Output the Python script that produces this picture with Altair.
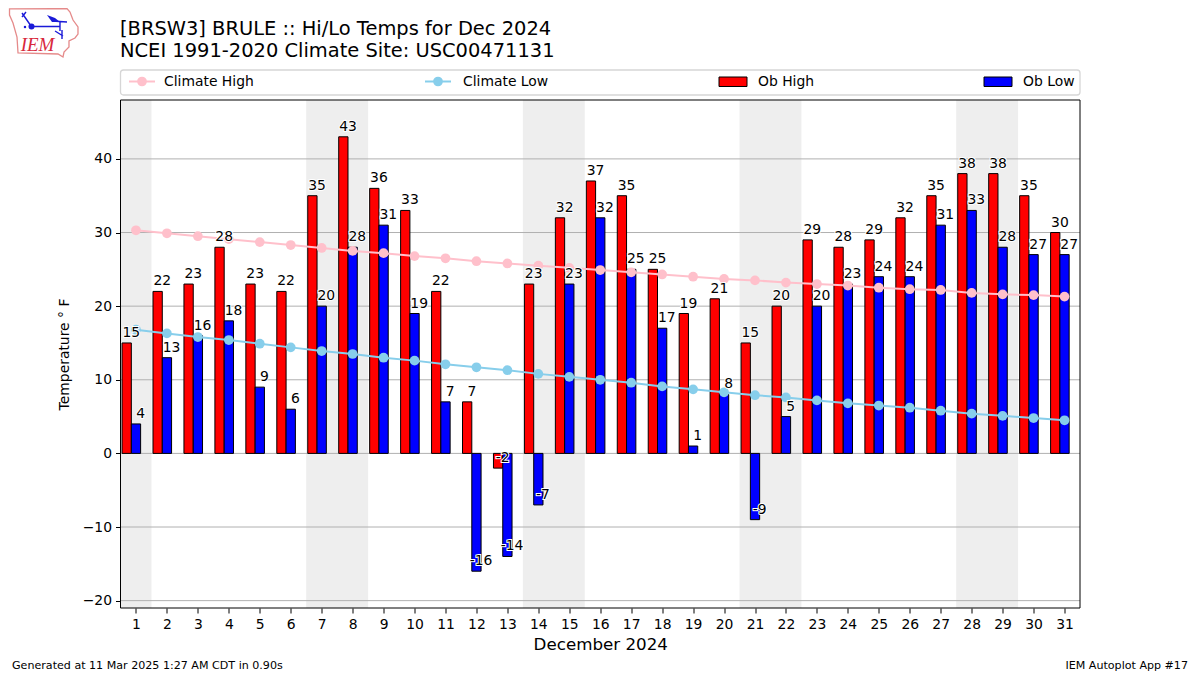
import altair as alt
import pandas as pd

days = list(range(1, 32))
ob_high = [15, 22, 23, 28, 23, 22, 35, 43, 36, 33, 22, 7, -2, 23, 32, 37, 35, 25, 19, 21, 15, 20, 29, 28, 29, 32, 35, 38, 38, 35, 30]
ob_low = [4, 13, 16, 18, 9, 6, 20, 28, 31, 19, 7, -16, -14, -7, 23, 32, 25, 17, 1, 8, -9, 5, 20, 23, 24, 24, 31, 33, 28, 27, 27]
clim_high = [30.3, 29.9, 29.5, 29.1, 28.7, 28.3, 27.9, 27.5, 27.2, 26.8, 26.5, 26.1, 25.8, 25.5, 25.2, 24.9,
             24.6, 24.3, 24.0, 23.7, 23.5, 23.2, 23.0, 22.8, 22.5, 22.3, 22.2, 21.8, 21.6, 21.5, 21.3]
clim_low = [16.8, 16.3, 15.8, 15.4, 14.9, 14.4, 13.9, 13.5, 13.0, 12.6, 12.1, 11.7, 11.3, 10.8, 10.4, 10.0,
            9.6, 9.1, 8.7, 8.3, 7.9, 7.6, 7.2, 6.8, 6.5, 6.2, 5.8, 5.4, 5.1, 4.8, 4.5]
weekend_start = [0.5, 6.5, 13.5, 20.5, 27.5]
weekend_end = [1.5, 8.5, 15.5, 22.5, 29.5]
y_ticks = [-20, -10, 0, 10, 20, 30, 40]
title_lines = ["[BRSW3] BRULE :: Hi/Lo Temps for Dec 2024", "NCEI 1991-2020 Climate Site: USC00471131"]
legend_labels = ["Climate High", "Climate Low", "Ob High", "Ob Low"]
footer_left = "Generated at 11 Mar 2025 1:27 AM CDT in 0.90s"
footer_right = "IEM Autoplot App #17"

FONT = "DejaVu Sans"
OX, OY = 120.5, 100  # page position of the plot origin
MARKER = 95

df = pd.DataFrame({"day": days, "high": ob_high, "low": ob_low, "chigh": clim_high, "clow": clim_low, "zero": 0})
xs = alt.Scale(domain=[0.5, 31.5], nice=False, zero=False)
ys = alt.Scale(domain=[-21, 48], nice=False, zero=False)
xq = lambda f: alt.X(f, type="quantitative", scale=xs,
                     axis=alt.Axis(values=days, format="d", title="December 2024", titleFontSize=16.7,
                                   titlePadding=6, labelFontSize=13.9, labelFlush=False, grid=False,
                                   tickSize=5, labelPadding=4, domain=False, labelOverlap=False,
                                   tickColor="black", labelColor="black", titleColor="black",
                                   titleFont=FONT, labelFont=FONT, titleFontWeight="normal"))
yq = lambda f: alt.Y(f, type="quantitative", scale=ys,
                     axis=alt.Axis(values=y_ticks, format="d", title="Temperature ° F", titleFontSize=13.9,
                                   labelFontSize=13.9, grid=False, tickSize=5, labelPadding=4, domain=False,
                                   tickColor="black", labelColor="black", titleColor="black",
                                   titleFont=FONT, labelFont=FONT, titleFontWeight="normal", titlePadding=11))

shade = alt.Chart(pd.DataFrame({"s": weekend_start, "e": weekend_end})).mark_rect(color="#eeeeee").encode(
    x=xq("s"), x2="e")
grid = alt.Chart(pd.DataFrame({"v": y_ticks})).mark_rule(color="#b0b0b0", strokeWidth=1).encode(y=yq("v"))


def bars(field, color, a, b):
    return alt.Chart(df).transform_calculate(l=f"datum.day+({a})", r=f"datum.day+({b})").mark_bar(
        color=color, stroke="black", strokeWidth=1).encode(x=xq("l"), x2="r", y=yq(field), y2="zero")


def series(field, color):
    line = alt.Chart(df).mark_line(color=color, strokeWidth=2).encode(x=xq("day"), y=yq(field))
    pts = alt.Chart(df).mark_point(color=color, filled=True, opacity=1, size=MARKER).encode(x=xq("day"), y=yq(field))
    return line + pts


def labels(field, off):
    base = alt.Chart(df).transform_calculate(tx=f"datum.day+({off})", lab=f"'' + datum.{field}")
    enc = dict(x=xq("tx"), y=yq(field), text=alt.Text("lab:N"))
    kw = dict(font=FONT, fontSize=13.9, align="center", baseline="alphabetic", dy=-6)
    return (base.mark_text(stroke="white", strokeWidth=2, **kw).encode(**enc)
            + base.mark_text(color="black", **kw).encode(**enc))


one = alt.Data(values=[{"a": 1}])


def px(x):
    return alt.value(x - OX)


def py(y):
    return alt.value(y - OY)


def page_text(txt, x, y, size=13.9, align="left", color="black", **kw):
    return alt.Chart(one).mark_text(font=kw.pop("font", FONT), fontSize=size, align=align, baseline="middle",
                                    color=color, **kw).encode(x=px(x), y=py(y), text=alt.value(txt))


legend_box = alt.Chart(one).mark_rect(fill="white", stroke="#d6d6d6", strokeWidth=1.3, cornerRadius=3).encode(
    x=px(120.5), x2=px(1080), y=py(70), y2=py(95))
legend_parts = [legend_box]
for x0, tx, color, name in [(129, 164, "pink", legend_labels[0]), (425, 463, "skyblue", legend_labels[1])]:
    legend_parts.append(alt.Chart(one).mark_rule(color=color, strokeWidth=2).encode(
        x=px(x0), x2=px(x0 + 26), y=py(81.5)))
    legend_parts.append(alt.Chart(one).mark_point(color=color, filled=True, opacity=1, size=MARKER).encode(
        x=px(x0 + 13), y=py(81.5)))
    legend_parts.append(page_text(name, tx, 81.5))
for x0, color, name in [(719, "red", legend_labels[2]), (984, "blue", legend_labels[3])]:
    legend_parts.append(alt.Chart(one).mark_rect(fill=color, stroke="black", strokeWidth=1).encode(
        x=px(x0), x2=px(x0 + 28), y=py(77), y2=py(86.5)))
    legend_parts.append(page_text(name, x0 + 39, 81.5))

frame = alt.Chart(one).mark_rect(fill=None, stroke="black", strokeWidth=1).encode(
    x=px(OX), x2=px(1080), y=py(OY), y2=py(608))

# logo, drawn as point marks with custom SVG shapes centred on (LX, LY)
LX, LY, LR = 44, 32, 36


def seg(points, closed=False):
    cmd = "M" + "L".join(f"{(x - LX) / LR:.3f},{(y - LY) / LR:.3f}" for x, y in points)
    return cmd + ("Z" if closed else "")


iowa = [(9.5, 8.8), (67, 8.6), (70, 12), (73, 20), (78, 27), (78, 34), (75, 38), (69, 41), (69, 47), (64, 52),
        (63, 57), (58, 54), (18, 53), (17, 37), (13, 23), (9.5, 15)]
icon = [[(31, 26.5), (60, 26.5)], [(31, 26), (22, 13)], [(22, 17), (26, 12)], [(60, 21), (60, 31)],
        [(52, 21), (67, 22)], [(55, 31), (63, 36)], [(62, 30), (62, 39)]]
flag = [(47, 15), (55, 18), (60, 22), (52, 22)]
logo_size = (2 * LR) ** 2
logo_at = dict(x=px(LX), y=py(LY))
logo = [
    alt.Chart(one).mark_point(shape=seg(iowa, True), size=logo_size, filled=False, stroke="#e58a8a",
                              strokeWidth=1.3, opacity=1).encode(**logo_at),
    alt.Chart(one).mark_point(shape="".join(seg(s) for s in icon), size=logo_size, filled=False, stroke="#1a1ad8",
                              strokeWidth=1.4, opacity=1).encode(**logo_at),
    alt.Chart(one).mark_point(shape=seg(flag, True), size=logo_size, filled=True,
                              color="#1a1ad8", opacity=1).encode(**logo_at),
    alt.Chart(one).mark_point(color="#1a1ad8", filled=True, opacity=1, size=36).encode(x=px(31.5), y=py(26.5)),
    alt.Chart(one).mark_point(color="#1a1ad8", filled=True, opacity=1, size=6).encode(x=px(25), y=py(27)),
    page_text("IEM", 37.5, 45, size=19, align="center", color="#d8283c", font="Liberation Serif", fontStyle="italic"),
]

chart = alt.layer(
    shade, grid,
    bars("high", "red", -0.45, -0.15),
    bars("low", "blue", -0.15, 0.15),
    series("chigh", "pink"), series("clow", "skyblue"),
    labels("high", -0.15), labels("low", 0.15),
    frame,
    *legend_parts, *logo,
    page_text(title_lines[0], 120, 29, size=19.45),
    page_text(title_lines[1], 120, 50.5, size=19.45),
    page_text(footer_left, 12, 666, size=11.1),
    page_text(footer_right, 1188, 666, size=11.1, align="right"),
).properties(
    width=959.5, height=508,
    padding={"left": 112.5, "top": 92, "right": 112, "bottom": 66},
    autosize=alt.AutoSizeParams(type="none"),
    background="white",
).configure_view(stroke=None)

chart.save("out.html", embed_options={"renderer": "svg", "actions": False})
